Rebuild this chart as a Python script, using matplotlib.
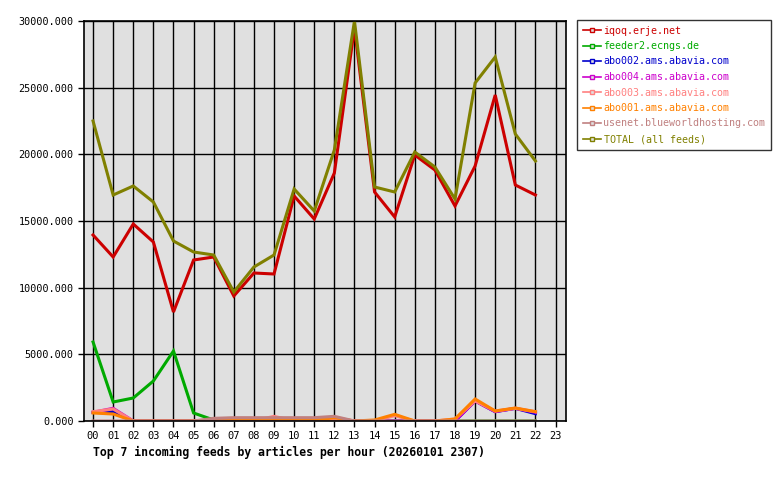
import matplotlib
matplotlib.use("Agg")
import matplotlib.pyplot as plt
from matplotlib.lines import Line2D

hours = list(range(23))
hour_labels = ["%02d" % h for h in range(24)]

feeds = ["iqoq.erje.net", "feeder2.ecngs.de", "abo002.ams.abavia.com",
         "abo004.ams.abavia.com", "abo003.ams.abavia.com", "abo001.ams.abavia.com",
         "usenet.blueworldhosting.com", "TOTAL (all feeds)"]
colors = ["#cc0000", "#00aa00", "#0000cc", "#cc00cc", "#ff8080", "#ff8000", "#c08080", "#808000"]

iqoq = [13950, 12300, 14775, 13425, 8175, 12075, 12300, 9375, 11100, 11025, 16875, 15150,
        18600, 29500, 17175, 15300, 19950, 18825, 16125, 19125, 24450, 17700, 16950]
feeder2 = [5925, 1425, 1725, 3000, 5250, 600, 75, 0, 0, 50, 0, 0,
           60, 0, 0, 0, 0, 0, 0, 0, 0, 0, 0]
abo002 = [650, 700, 0, 0, 0, 0, 0, 0, 0, 0, 0, 0,
          0, 0, 0, 0, 0, 0, 0, 1500, 700, 950, 550]
abo004 = [650, 950, 0, 0, 0, 0, 0, 0, 0, 0, 0, 0,
          0, 0, 0, 0, 0, 0, 0, 1500, 700, 950, 650]
abo003 = [700, 900, 0, 0, 0, 0, 0, 0, 0, 350, 0, 0,
          200, 0, 0, 400, 0, 0, 150, 1500, 750, 950, 700]
abo001 = [600, 525, 0, 0, 0, 0, 0, 50, 50, 50, 50, 50,
          250, 0, 75, 500, 0, 0, 150, 1650, 750, 975, 700]
usenet = [0, 0, 0, 0, 0, 0, 200, 250, 250, 250, 250, 250,
          350, 0, 0, 0, 0, 0, 0, 0, 0, 0, 0]
total = [22500, 16950, 17625, 16425, 13500, 12675, 12450, 9675, 11550, 12450, 17400, 15750,
         20325, 30000, 17550, 17175, 20175, 19050, 16650, 25350, 27300, 21525, 19500]

series = [iqoq, feeder2, abo002, abo004, abo003, abo001, usenet, total]

plt.rcParams['font.family'] = ['DejaVu Sans Mono']

fig = plt.figure(figsize=(7.8, 4.8), dpi=100)
ax = fig.add_axes([84 / 780, 59 / 480, 482 / 780, 400 / 480])
ax.set_facecolor("#e0e0e0")

for vals, c in zip(series, colors):
    ax.plot(hours, vals, color=c, lw=2.2, solid_joinstyle="miter")
# baseline line drawn by usenet at zero
ax.plot(hours, [0] * len(hours), color=colors[6], lw=2.2)

ax.set_xlim(-0.45, 23.52)
ax.set_ylim(0, 30000)
ax.set_xticks(range(24))
ax.set_xticklabels(hour_labels, fontsize=7.5)
ax.set_yticks(range(0, 30001, 5000))
ax.set_yticklabels(["%d.000" % v for v in range(0, 30001, 5000)], fontsize=7.3)
ax.tick_params(length=4, width=1, color="black")
ax.grid(True, color="black", lw=1)
ax.set_axisbelow(True)
for s in ax.spines.values():
    s.set_linewidth(1.2)

fig.text(93 / 780, 1 - 452 / 480, "Top 7 incoming feeds by articles per hour (20260101 2307)",
         fontsize=8.3, fontweight="bold", va="center", ha="left")

handles = [Line2D([0], [0], color=c, lw=1.2, marker="s", markersize=3,
                  markerfacecolor="#e0e0e0", markeredgecolor=c) for c in colors]
leg = fig.legend(handles, feeds, loc="upper left", bbox_to_anchor=(577 / 780, 1 - 20 / 480),
                 prop={"size": 7.2}, frameon=True, fancybox=False, edgecolor="black",
                 handlelength=1.8, handletextpad=0.3, labelspacing=0.55, borderpad=0.55,
                 borderaxespad=0)
leg.get_frame().set_linewidth(1)
for t, c in zip(leg.get_texts(), colors):
    t.set_color(c)

fig.savefig("out.png", dpi=100)
